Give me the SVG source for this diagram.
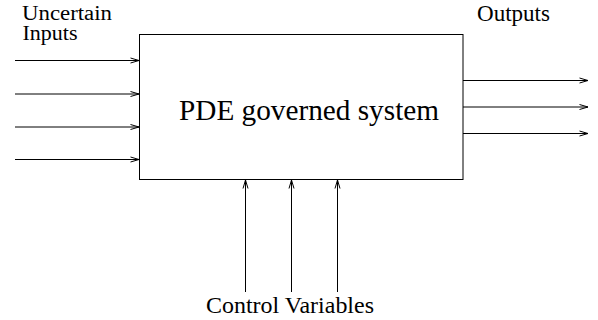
<svg xmlns="http://www.w3.org/2000/svg" width="598" height="320" viewBox="0 0 598 320">
<style>
.lbl{font-family:"Liberation Serif","Times New Roman",serif;font-size:22.5px;fill:#000}
.sm{font-family:"Liberation Serif","Times New Roman",serif;font-size:20.5px;fill:#000}
.big{font-family:"Liberation Serif","Times New Roman",serif;font-size:29px;fill:#000}
.c{stroke:#000;stroke-width:1;fill:none}
</style>
<defs>
<marker id="ah" markerUnits="userSpaceOnUse" markerWidth="10" markerHeight="8" refX="9" refY="3" orient="auto" viewBox="0 0 10 6">
<path d="M0.5,0.5 L9,3 L0.5,5.5" fill="none" stroke="#000" stroke-width="1"/>
</marker>
</defs>
<rect width="598" height="320" fill="#fff"/>
<g id="system">
<rect x="139.5" y="34.5" width="323.5" height="145" fill="#fff" stroke="#000" stroke-width="1"/>
<text class="big" x="179" y="120" textLength="260" lengthAdjust="spacingAndGlyphs">PDE governed system</text>
</g>
<g id="labels">
<text class="sm" x="22" y="20" textLength="90" lengthAdjust="spacingAndGlyphs">Uncertain</text>
<text class="sm" x="22.5" y="40" textLength="55" lengthAdjust="spacingAndGlyphs">Inputs</text>
<text class="lbl" x="477" y="20.7" textLength="73" lengthAdjust="spacingAndGlyphs">Outputs</text>
<text class="lbl" x="206" y="312.7" textLength="168" lengthAdjust="spacingAndGlyphs">Control Variables</text>
</g>
<g id="connectors">
<line class="c" x1="15" y1="60.5" x2="139" y2="60.5" marker-end="url(#ah)"/>
<line class="c" x1="15" y1="94" x2="139" y2="94" marker-end="url(#ah)"/>
<line class="c" x1="15" y1="127" x2="139" y2="127" marker-end="url(#ah)"/>
<line class="c" x1="15" y1="159.5" x2="139" y2="159.5" marker-end="url(#ah)"/>
<line class="c" x1="463" y1="80.5" x2="588" y2="80.5" marker-end="url(#ah)"/>
<line class="c" x1="463" y1="107" x2="588" y2="107" marker-end="url(#ah)"/>
<line class="c" x1="463" y1="133.5" x2="588" y2="133.5" marker-end="url(#ah)"/>
<line class="c" x1="245.5" y1="292" x2="245.5" y2="180" marker-end="url(#ah)"/>
<line class="c" x1="291.5" y1="292" x2="291.5" y2="180" marker-end="url(#ah)"/>
<line class="c" x1="337.5" y1="292" x2="337.5" y2="180" marker-end="url(#ah)"/>
</g>
</svg>
